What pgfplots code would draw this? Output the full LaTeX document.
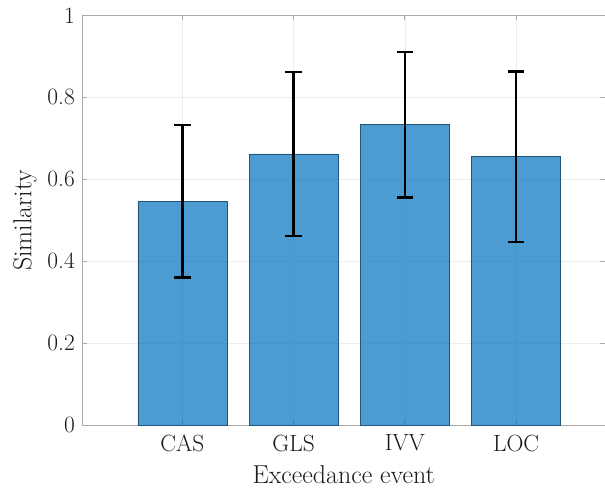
\documentclass[border=0pt]{standalone}
\usepackage{pgfplots}
\pgfplotsset{compat=1.18}
\definecolor{barblue}{rgb}{0,0.447,0.741}
\definecolor{baredge}{RGB}{35,85,120}
\definecolor{axgray}{RGB}{170,170,170}
\definecolor{gridgray}{RGB}{236,236,236}
\definecolor{txt}{RGB}{25,25,25}

\begin{document}
\begin{tikzpicture}
\begin{axis}[
  scale only axis, width=522.7bp, height=410bp,
  xmin=0.1, xmax=4.8, ymin=0, ymax=1,
  xtick={1,2,3,4}, xticklabels={CAS,GLS,IVV,LOC},
  ytick={0,0.2,0.4,0.6,0.8,1},
  yticklabel style={/pgf/number format/.cd, fixed, precision=1},
  /pgf/number format/assume math mode=true,
  xticklabel pos=left, yticklabel pos=left,
  tick pos=both, tick align=inside,
  major tick length=5bp,
  tick style={axgray, line width=0.8bp},
  axis line style={axgray, line width=0.8bp},
  grid=major,
  major grid style={gridgray, line width=0.6bp},
  tick label style={font=\fontsize{23.5}{28}\selectfont, text=txt},
  label style={font=\fontsize{26}{31}\selectfont, text=txt},
  xticklabel shift=6bp, yticklabel shift=4bp,
  xlabel shift=7bp, ylabel shift=4bp,
  xlabel={Exceedance event},
  ylabel={Similarity},
]
\addplot[ybar, bar width=0.8, fill=barblue, fill opacity=0.7,
  draw=baredge, line width=0.7bp,
  error bars/.cd, y dir=both, y explicit,
  error bar style={line width=2.6bp, black, opacity=1},
  error mark options={rotate=90, mark size=8.3bp, line width=2.6bp, black}]
  coordinates {
    (1,0.546) +- (0,0.186)
    (2,0.662) +- (0,0.200)
    (3,0.733) +- (0,0.177)
    (4,0.655) +- (0,0.208)
  };
\coordinate (llc) at (rel axis cs:0,0);
\coordinate (urc) at (rel axis cs:1,1);
\end{axis}
\pgfresetboundingbox
\path[use as bounding box] ([shift={(-82.3bp,-63.7bp)}]llc) rectangle ([shift={(0bp,15.3bp)}]urc);
\end{tikzpicture}
\end{document}
